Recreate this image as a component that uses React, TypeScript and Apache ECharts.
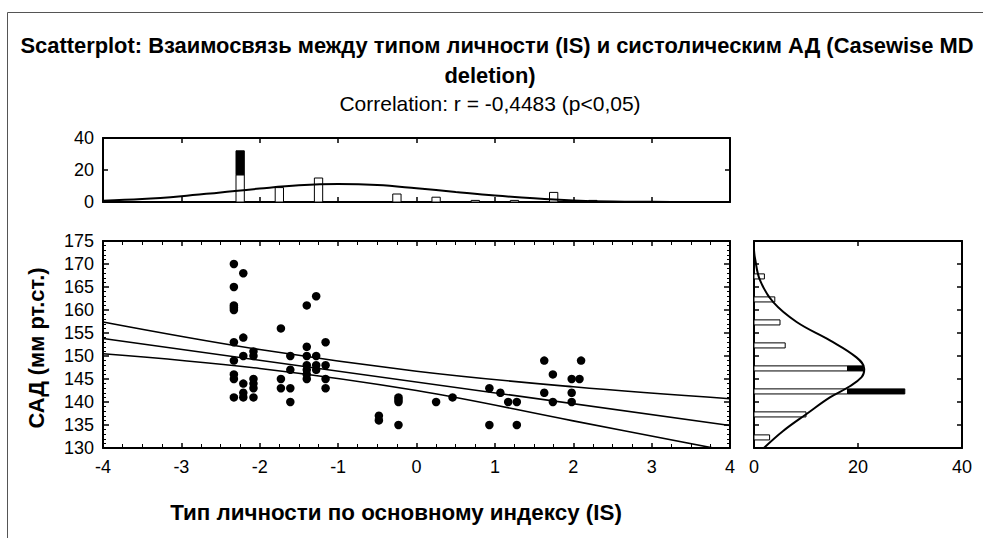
import React, { useEffect, useRef } from "react";
import * as echarts from "echarts";

const titleLine1 =
  "Scatterplot: Взаимосвязь между типом личности (IS) и систолическим АД (Casewise MD";
const titleLine2 = "deletion)";
const subtitle = "Correlation: r = -0,4483 (p<0,05)";
const xAxisName = "Тип личности по основному индексу (IS)";
const yAxisName = "САД (мм рт.ст.)";

// scatter: [IS, САД]
const scatterPoints: [number, number][] = [
  [-2.33, 170], [-2.33, 165], [-2.33, 161], [-2.33, 160.5], [-2.33, 160],
  [-2.33, 153], [-2.33, 149], [-2.33, 146], [-2.33, 145], [-2.33, 141],
  [-2.21, 168], [-2.21, 154], [-2.21, 150], [-2.21, 144], [-2.21, 142], [-2.21, 141],
  [-2.08, 151], [-2.08, 150], [-2.08, 145], [-2.08, 144], [-2.08, 143], [-2.08, 141],
  [-1.73, 156], [-1.73, 145], [-1.73, 143],
  [-1.61, 150], [-1.61, 147], [-1.61, 143], [-1.61, 140],
  [-1.4, 161], [-1.4, 152], [-1.4, 150], [-1.4, 148], [-1.4, 147], [-1.4, 146], [-1.4, 145],
  [-1.28, 163], [-1.28, 150], [-1.28, 148], [-1.28, 147],
  [-1.16, 153], [-1.16, 148], [-1.16, 145], [-1.16, 143],
  [-0.48, 137], [-0.48, 136],
  [-0.23, 141], [-0.23, 140.5], [-0.23, 140], [-0.23, 135],
  [0.25, 140], [0.46, 141],
  [0.93, 143], [0.93, 135], [1.07, 142], [1.17, 140], [1.28, 140], [1.28, 135],
  [1.63, 149], [1.63, 142], [1.74, 146], [1.74, 140],
  [1.98, 145], [1.98, 142], [1.98, 140], [2.08, 145], [2.1, 149],
];

const fitLine: [number, number][] = [[-4, 153.8], [4, 134.9]];
const upperBand: [number, number][] = [[-4, 157.4], [-2, 151.4], [0, 146.7], [2, 143.3], [4, 140.7]];
const lowerBand: [number, number][] = [[-4, 150.5], [-2, 147.3], [0, 142.5], [2, 135.9], [4, 129.3]];

// top histogram (IS)
const topHistX = [-2.25, -1.75, -1.25, -0.25, 0.25, 0.75, 1.25, 1.75, 2.25];
const topHistOpen = [17, 9, 15, 5, 3, 1, 1, 6, 1];
const topHistTotal = [32, 9, 15, 5, 3, 1, 1, 6, 1];
const topCurveX = [-4, -3.5, -3, -2.5, -2, -1.5, -1, -0.5, 0, 0.5, 1, 1.5, 2, 2.5, 3, 3.5, 4];
const topCurveY = [0.8, 1.8, 3.6, 6.0, 8.4, 10.4, 11.2, 10.6, 8.6, 6.3, 4.1, 2.3, 1.0, 0.3, 0.1, 0, 0];

// right histogram (САД)
const rightHistY = [132.3, 137.3, 142.3, 147.3, 152.3, 157.3, 162.3, 167.3];
const rightHistOpen = [3, 10, 18, 18, 6, 5, 4, 2];
const rightHistTotal = [3, 10, 29, 21, 6, 5, 4, 2];
const rightCurveY = [129.9, 133.7, 137.4, 141.0, 143.2, 145.4, 147.2, 149.7, 153.4, 157.4, 161.7, 166.5, 171.2, 173];
const rightCurveV = [1.8, 5.6, 10.1, 14.6, 18.1, 20.7, 21.2, 19.7, 14.6, 8.2, 3.7, 1.15, 0.2, 0];

const FONT = '"Liberation Sans", Arial, sans-serif';

export default function App() {
  const ref = useRef<HTMLDivElement>(null);
  useEffect(() => {
    document.body.style.margin = "0";
    const chart = echarts.init(ref.current!, undefined, { renderer: "svg" });
    const axisLine = { show: true, onZero: false, lineStyle: { color: "#000", width: 2 } };
    const label = { color: "#000", fontSize: 18, fontFamily: FONT };
    const noLabel = { show: false };
    const tick = (len: number) => ({ show: true, inside: true, length: len, lineStyle: { color: "#000", width: 1.5 } });
    const minor = (n: number, len: number) => ({ show: true, splitNumber: n, length: len, lineStyle: { color: "#000", width: 1 } });
    const noSplit = { show: false };

    const mainX = (pos: string, showLabel: boolean) => ({
      type: "value", gridIndex: 0, min: -4, max: 4, interval: 1, position: pos,
      axisLine, axisTick: tick(5), minorTick: minor(4, 4), splitLine: noSplit, minorSplitLine: noSplit,
      axisLabel: showLabel ? { ...label, margin: 10, showMinLabel: true, showMaxLabel: true } : noLabel,
    });
    const mainY = (pos: string, showLabel: boolean) => ({
      type: "value", gridIndex: 0, min: 130, max: 175, interval: 5, position: pos,
      axisLine, axisTick: tick(6), minorTick: minor(5, 3), splitLine: noSplit,
      axisLabel: showLabel ? { ...label, margin: 9 } : noLabel,
    });

    const option: any = {
      animation: false,
      backgroundColor: "#fff",
      grid: [
        { left: 103, top: 241, width: 627, height: 207 },
        { left: 103, top: 138, width: 627, height: 64 },
        { left: 754, top: 241, width: 208, height: 207 },
      ],
      xAxis: [
        mainX("bottom", true),
        mainX("top", false),
        { type: "value", gridIndex: 1, min: -4, max: 4, interval: 1, position: "bottom", axisLine, axisTick: tick(5), splitLine: noSplit, axisLabel: noLabel },
        { type: "value", gridIndex: 1, min: -4, max: 4, interval: 1, position: "top", axisLine, axisTick: tick(5), splitLine: noSplit, axisLabel: noLabel },
        { type: "value", gridIndex: 2, min: 0, max: 40, interval: 20, position: "bottom", axisLine, axisTick: tick(5), splitLine: noSplit, axisLabel: { ...label, margin: 10, showMinLabel: true, showMaxLabel: true } },
        { type: "value", gridIndex: 2, min: 0, max: 40, interval: 20, position: "top", axisLine, axisTick: tick(5), splitLine: noSplit, axisLabel: noLabel },
      ],
      yAxis: [
        mainY("left", true),
        mainY("right", false),
        { type: "value", gridIndex: 1, min: 0, max: 40, interval: 20, position: "left", axisLine, axisTick: tick(5), splitLine: noSplit, axisLabel: { ...label, margin: 9, showMinLabel: true, showMaxLabel: true } },
        { type: "value", gridIndex: 1, min: 0, max: 40, interval: 20, position: "right", axisLine, axisTick: tick(5), splitLine: noSplit, axisLabel: noLabel },
        { type: "value", gridIndex: 2, min: 130, max: 175, interval: 5, position: "left", axisLine, axisTick: tick(5), splitLine: noSplit, axisLabel: noLabel },
        { type: "value", gridIndex: 2, min: 130, max: 175, interval: 5, position: "right", axisLine, axisTick: tick(5), splitLine: noSplit, axisLabel: noLabel },
      ],
      series: [
        {
          type: "scatter", xAxisIndex: 0, yAxisIndex: 0, data: scatterPoints,
          symbol: "circle", symbolSize: 8.5, itemStyle: { color: "#000", opacity: 1 }, z: 3,
        },
        ...[fitLine, upperBand, lowerBand].map((d, i) => ({
          type: "line", xAxisIndex: 0, yAxisIndex: 0, data: d, smooth: i === 0 ? false : 0.4,
          showSymbol: false, symbol: "none", clip: true, lineStyle: { color: "#000", width: 1.6 }, z: 4,
        })),
        {
          type: "custom", xAxisIndex: 2, yAxisIndex: 2,
          data: topHistX.map((x, i) => [x, topHistOpen[i], topHistTotal[i]]),
          renderItem: (_p: any, api: any) => {
            const x = api.value(0), open = api.value(1), total = api.value(2);
            const hw = 0.053;
            const a = api.coord([x - hw, 0]);
            const b = api.coord([x + hw, open]);
            const children: any[] = [{
              type: "rect", shape: { x: a[0], y: b[1], width: b[0] - a[0], height: a[1] - b[1] },
              style: { fill: "#fff", stroke: "#000", lineWidth: 1 },
            }];
            if (total > open) {
              const c = api.coord([x + hw, total]);
              children.push({
                type: "rect", shape: { x: a[0], y: c[1], width: b[0] - a[0], height: b[1] - c[1] },
                style: { fill: "#000", stroke: "#000", lineWidth: 1 },
              });
            }
            return { type: "group", children };
          },
          z: 2,
        },
        {
          type: "line", xAxisIndex: 2, yAxisIndex: 2, data: topCurveX.map((x, i) => [x, topCurveY[i]]),
          smooth: 0.4, showSymbol: false, symbol: "none", lineStyle: { color: "#000", width: 2 }, z: 4,
        },
        {
          type: "custom", xAxisIndex: 4, yAxisIndex: 4,
          data: rightHistY.map((y, i) => [rightHistOpen[i], y, rightHistTotal[i]]),
          renderItem: (_p: any, api: any) => {
            const open = api.value(0), y = api.value(1), total = api.value(2);
            const hh = 0.55;
            const a = api.coord([0, y + hh]);
            const b = api.coord([open, y - hh]);
            const children: any[] = [{
              type: "rect", shape: { x: a[0], y: a[1], width: b[0] - a[0], height: b[1] - a[1] },
              style: { fill: "#fff", stroke: "#000", lineWidth: 1 },
            }];
            if (total > open) {
              const c = api.coord([total, y - hh]);
              children.push({
                type: "rect", shape: { x: b[0], y: a[1], width: c[0] - b[0], height: b[1] - a[1] },
                style: { fill: "#000", stroke: "#000", lineWidth: 1 },
              });
            }
            return { type: "group", children };
          },
          z: 2,
        },
        {
          type: "line", xAxisIndex: 4, yAxisIndex: 4, data: rightCurveY.map((y, i) => [rightCurveV[i], y]),
          smooth: 0.4, showSymbol: false, symbol: "none", lineStyle: { color: "#000", width: 2 }, z: 4,
        },
      ],
      graphic: [
        { type: "rect", shape: { x: 7.5, y: 12.5, width: 1200, height: 800 }, style: { fill: "none", stroke: "#555", lineWidth: 1 }, z: 0, silent: true },
        { type: "text", x: 497, y: 45, style: { text: titleLine1, font: `bold 21.9px ${FONT}`, fill: "#000", align: "center", verticalAlign: "middle" } },
        { type: "text", x: 490, y: 75, style: { text: titleLine2, font: `bold 21.9px ${FONT}`, fill: "#000", align: "center", verticalAlign: "middle" } },
        { type: "text", x: 490, y: 103, style: { text: subtitle, font: `21px ${FONT}`, fill: "#000", align: "center", verticalAlign: "middle" } },
        { type: "text", x: 396, y: 512, style: { text: xAxisName, font: `bold 22.4px ${FONT}`, fill: "#000", align: "center", verticalAlign: "middle" } },
        { type: "text", x: 36, y: 348, rotation: Math.PI / 2, style: { text: yAxisName, font: `bold 21.8px ${FONT}`, fill: "#000", align: "center", verticalAlign: "middle" } },
      ],
    };
    chart.setOption(option);
    return () => chart.dispose();
  }, []);
  return <div ref={ref} style={{ position: "fixed", left: 0, top: 0, width: 983, height: 538 }} />;
}
